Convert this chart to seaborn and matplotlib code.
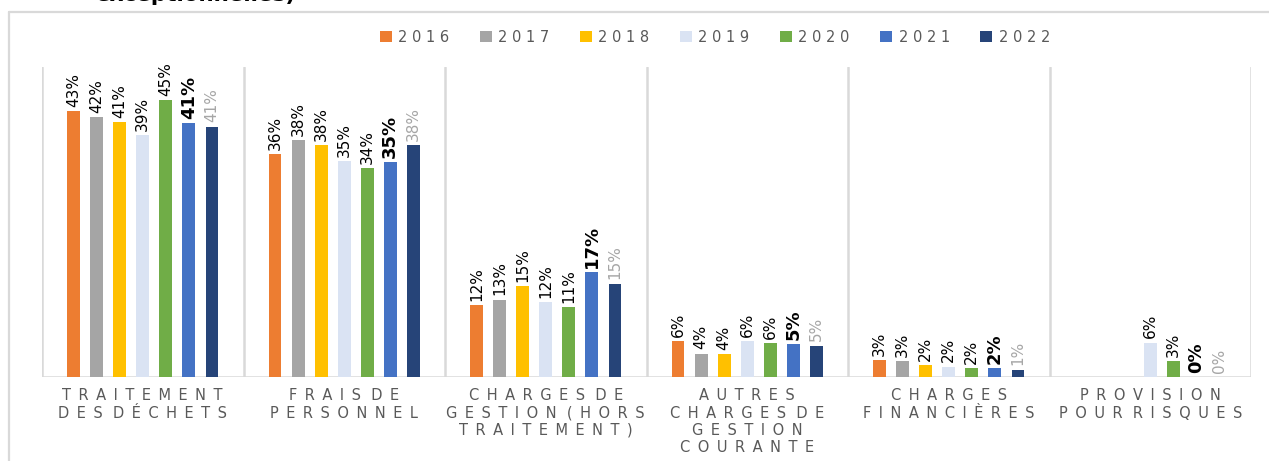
import numpy as np
import pandas as pd
import matplotlib.pyplot as plt
import seaborn as sns
from matplotlib.lines import Line2D

categories = ['TRAITEMENT\nDES DÉCHETS', 'FRAIS DE\nPERSONNEL',
              'CHARGES DE\nGESTION (HORS\nTRAITEMENT)',
              'AUTRES\nCHARGES DE\nGESTION\nCOURANTE',
              'CHARGES\nFINANCIÈRES', 'PROVISION\nPOUR RISQUES']
years = ['2016', '2017', '2018', '2019', '2020', '2021', '2022']

# share of expenses (%)
v2016 = [43.2, 36.2, 11.7, 5.8, 2.8, np.nan]
v2017 = [42.2, 38.5, 12.6, 3.8, 2.6, np.nan]
v2018 = [41.5, 37.7, 14.8, 3.7, 2.0, np.nan]
v2019 = [39.3, 35.1, 12.2, 5.8, 1.7, 5.6]
v2020 = [45.0, 33.9, 11.3, 5.5, 1.5, 2.6]
v2021 = [41.3, 35.0, 17.0, 5.3, 1.4, 0.0]
v2022 = [40.7, 37.7, 15.2, 5.1, 1.2, 0.0]

# printed labels
l2016 = ['43%', '36%', '12%', '6%', '3%', '']
l2017 = ['42%', '38%', '13%', '4%', '3%', '']
l2018 = ['41%', '38%', '15%', '4%', '2%', '']
l2019 = ['39%', '35%', '12%', '6%', '2%', '6%']
l2020 = ['45%', '34%', '11%', '6%', '2%', '3%']
l2021 = ['41%', '35%', '17%', '5%', '2%', '0%']
l2022 = ['41%', '38%', '15%', '5%', '1%', '0%']

values = [v2016, v2017, v2018, v2019, v2020, v2021, v2022]
labels = [l2016, l2017, l2018, l2019, l2020, l2021, l2022]
colors = ['#ED7D31', '#A5A5A5', '#FFC000', '#DAE3F3', '#70AD47', '#4472C4', '#264478']

rows = []
for y, vals in zip(years, values):
    for c, v in zip(categories, vals):
        if not np.isnan(v):
            rows.append({'cat': c, 'year': y, 'val': v})
df = pd.DataFrame(rows)


def spaced(s, gap=' \u2009', word='\u2002\u2009'):
    # mimic the letter-spaced text of the original
    return '\n'.join(word.join(gap.join(w) for w in line.split(' '))
                     for line in s.split('\n'))


sns.set_theme(style='white')
fig = plt.figure(figsize=(12.69, 4.61), dpi=100)
ax = fig.add_axes([42 / 1269, 84 / 461, 1209 / 1269, 310 / 461])

sns.barplot(data=df, x='cat', y='val', hue='year', order=categories, hue_order=years,
            palette=colors, saturation=1, width=0.8, gap=0.45, errorbar=None,
            linewidth=0, ax=ax)

label_font = ['Liberation Sans Narrow', 'DejaVu Sans']
for i, cont in enumerate(ax.containers):
    labs = [labels[i][int(round(p.get_x() + p.get_width() / 2))] for p in cont]
    kw = dict(fontsize=11, color='black')
    if years[i] == '2021':
        kw = dict(fontsize=13, color='black', fontweight='bold')
    elif years[i] == '2022':
        kw = dict(fontsize=11, color='#A6A6A6')
    ax.bar_label(cont, labels=labs, rotation=90, padding=3, family=label_font, **kw)

for x in np.arange(-0.5, 6, 1):
    ax.axvline(x, color='#D9D9D9', lw=1.8, zorder=0)
ax.axhline(0, color='#D9D9D9', lw=1.8, zorder=0)

ax.set_xlim(-0.5, 5.5)
ax.set_ylim(0, 50.4)
ax.set_yticks([])
ax.set_xlabel('')
ax.set_ylabel('')
ax.set_xticks(range(len(categories)))
ax.set_xticklabels([spaced(c) for c in categories], fontsize=10.5, color='#595959',
                   linespacing=1.2, va='top')
ax.tick_params(axis='x', length=0, pad=8)
sns.despine(ax=ax, left=True, bottom=True, top=True, right=True)

handles, _ = ax.get_legend_handles_labels()
ax.get_legend().remove()
fig.legend(handles, [spaced(y, gap=' ') for y in years], loc='center', ncol=7,
           bbox_to_anchor=(715 / 1269, 1 - 37 / 461), frameon=False, fontsize=10.5,
           labelcolor='#595959', handlelength=0.8, handleheight=0.8,
           handletextpad=0.45, columnspacing=2.1)

# outer chart frame (left and top edges only show) and clipped title
fy = 1 - 12 / 461
fx = 9 / 1269
fig.add_artist(Line2D([fx, fx], [0, fy], transform=fig.transFigure, color='#D9D9D9', lw=1.6))
fig.add_artist(Line2D([fx, 1], [fy, fy], transform=fig.transFigure, color='#D9D9D9', lw=1.6))
fig.text(95 / 1269, 1 - 1 / 461, 'exceptionnelles)', fontsize=15.5, fontweight='bold',
         color='black', va='baseline', ha='left')

fig.savefig('out.png', dpi=100)
